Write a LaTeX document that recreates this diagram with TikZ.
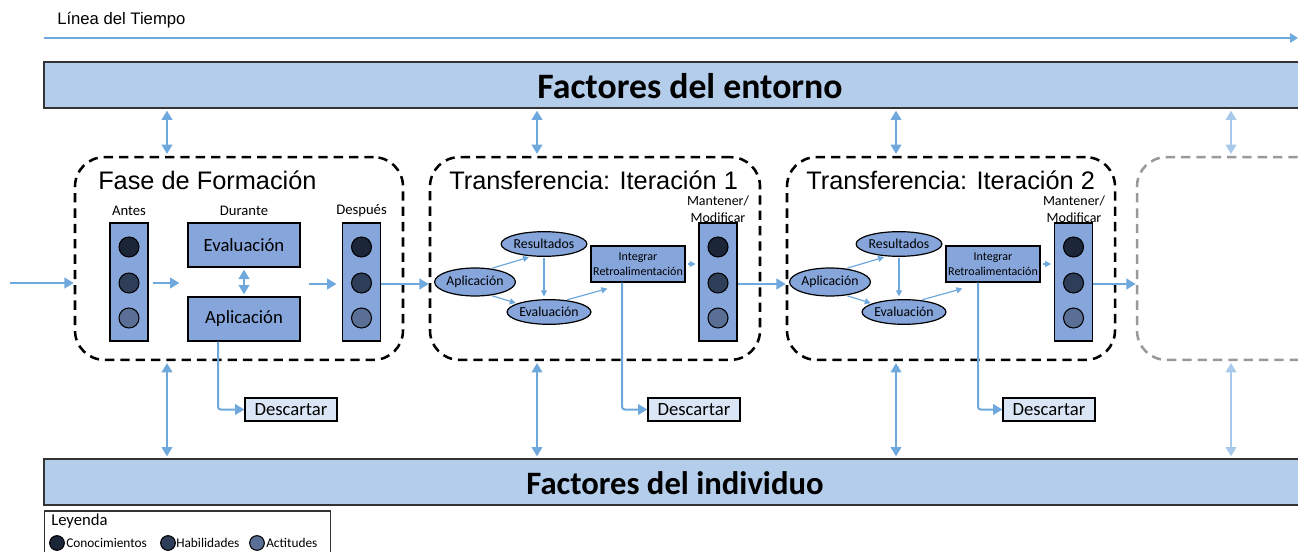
\documentclass[tikz,border=0pt]{standalone}
\usepackage{fontspec}
\setmainfont{Carlito}
\newfontfamily\arialf{Liberation Sans}
\usetikzlibrary{arrows.meta,calc,shapes.geometric}
\definecolor{barfill}{HTML}{B4CDEA}
\definecolor{boxfill}{HTML}{85A5DB}
\definecolor{ablue}{HTML}{6FA8DC}
\definecolor{ablue2}{HTML}{A9C9EC}
\definecolor{dk1}{HTML}{1B2638}
\definecolor{dk2}{HTML}{2E3D58}
\definecolor{dk3}{HTML}{5B6F96}
\definecolor{descfill}{HTML}{DAE6F5}
\definecolor{edge}{HTML}{333333}
\definecolor{greydash}{HTML}{999999}
\begin{document}
\begin{tikzpicture}[x=0.75pt,y=-0.75pt,
  bar/.style={draw=edge, line width=1pt, fill=barfill, minimum height=34.5pt, inner sep=0},
  bartext/.style={font=\bfseries\fontsize{26.8}{30}\selectfont, inner sep=0},
  phase/.style={draw=black, line width=1.9pt, dash pattern=on 7pt off 4.5pt, rounded corners=22pt, minimum width=246pt, minimum height=152pt, inner sep=0},
  phasegrey/.style={phase, draw=greydash},
  ptitle/.style={font=\arialf\fontsize{19}{22}\selectfont, anchor=west, inner sep=0},
  col/.style={draw=black, line width=1pt, fill=boxfill, minimum width=28.5pt, minimum height=88.5pt, inner sep=0},
  k1/.style={circle, draw=black, line width=0.8pt, minimum size=15pt, inner sep=0, fill=dk1},
  k2/.style={k1, fill=dk2},
  k3/.style={k1, fill=dk3},
  lk1/.style={k1, minimum size=11pt},
  lk2/.style={lk1, fill=dk2},
  lk3/.style={lk1, fill=dk3},
  bigbox/.style={draw=black, line width=1pt, fill=boxfill, minimum width=84pt, minimum height=33pt, inner sep=0, font=\fontsize{14}{16}\selectfont},
  ell/.style={ellipse, draw=black, line width=0.9pt, fill=boxfill, inner sep=0, font=\fontsize{10.3}{12}\selectfont},
  intbox/.style={draw=black, line width=0.9pt, fill=boxfill, minimum width=70.5pt, minimum height=27pt, inner sep=0, align=center, font=\fontsize{9}{11.5}\selectfont},
  descbox/.style={draw=black, line width=1pt, fill=descfill, minimum width=69pt, minimum height=17.25pt, inner sep=0, font=\fontsize{14}{16}\selectfont},
  small/.style={font=\fontsize{11}{13}\selectfont, inner sep=0},
  mmtext/.style={font=\fontsize{10.5}{13}\selectfont, align=center, inner sep=0},
  arr/.style={draw=ablue, line width=1.5pt, -{Triangle[length=7pt,width=8pt]}},
  thin/.style={draw=ablue, line width=0.9pt, -{Triangle[length=4.5pt,width=4.5pt]}},
  dbl/.style={draw=ablue, line width=1.5pt, {Triangle[length=7pt,width=8pt]}-{Triangle[length=7pt,width=8pt]}, shorten <=1.5pt, shorten >=1.5pt},
  dblpale/.style={dbl, draw=ablue2},
  disc/.style={draw=ablue, line width=1.5pt, -{Triangle[length=7pt,width=8pt]}, rounded corners=2pt}
]
\clip (0,0) rectangle (1298,552);
\useasboundingbox (0,0) rectangle (1298,552);

% time line
\node[font=\arialf\fontsize{12.5}{15}\selectfont, anchor=west, inner sep=0] (tltext) at (57,20) {Línea del Tiempo};
\coordinate (tl0) at (44,38);
\coordinate (tl1) at (1298,38);
\draw[draw=ablue, line width=1.4pt, -{Triangle[length=6pt,width=7pt]}] (tl0) -- (tl1);

% bars
\node[bar, minimum width=975pt] (top) at (694,85) {};
\node[bartext] (toptext) at (690,86) {Factores del entorno};
\node[bar, minimum width=975pt] (bot) at (694,482) {};
\node[bartext, font=\bfseries\fontsize{24.5}{28}\selectfont] (bottext) at (675,483) {Factores del individuo};

% phase boxes
\node[phase] (f1) at (239,258.5) {};
\node[phase, minimum width=247.5pt] (f2) at (595,258.5) {};
\node[phase] (f3) at (951,258.5) {};
\node[phasegrey] (f4) at (1301,258.5) {};

\node[ptitle] (t1) at (98,180) {Fase de Formación};
\node[ptitle] (t2) at (449,180) {Transferencia: Iteración 1};
\node[ptitle] (t3) at (806,180) {Transferencia: Iteración 2};

% phase 1 content
\node[small] (antes) at (129,211) {Antes};
\node[small] (durante) at (244,211) {Durante};
\node[small] (despues) at (361.5,211) {Después};
\node[col] (c1) at (129,282) {};
\node[k1] (c1a) at (129,247) {};
\node[k2] (c1b) at (129,283) {};
\node[k3] (c1c) at (129,318) {};
\node[col] (c2) at (361.5,282) {};
\node[k1] (c2a) at (361.5,247) {};
\node[k2] (c2b) at (361.5,283) {};
\node[k3] (c2c) at (361.5,318) {};
\node[bigbox] (ev) at (244,245) {Evaluación};
\node[bigbox] (ap) at (244,319) {Aplicación};
\node[descbox] (d1) at (291,409.5) {Descartar};

\coordinate (in0) at (10,283);
\draw[arr] (in0) -- (in0 -| f1.west);
\draw[arr, shorten <=3pt, shorten >=6pt] (c1.east |- c1b) -- (c1b -| ap.west);
\draw[dbl] (ev.south) -- (ap.south |- ap.north);
\draw[arr, shorten <=6pt, shorten >=4pt] (ap.east |- 0,284) -- (c2.west |- 0,284);
\draw[arr] (c2.east |- 0,284) -- (f2.west |- 0,284);
\draw[disc] ($(ap.south)+(-26,0)$) |- (d1.west);

% phase 2 content
\node[ell, minimum width=57pt, minimum height=21pt] (a2) at (475,282) {Aplicación};
\node[ell, minimum width=56pt, minimum height=18.5pt] (r2) at (544,244) {Resultados};
\node[ell, minimum width=57pt, minimum height=18.5pt] (e2) at (549,312) {Evaluación};
\node[intbox] (i2) at (638,264) {Integrar\\Retroalimentación};
\node[mmtext] (mm2) at (718,209) {Mantener/\\Modificar};
\node[col] (m2) at (718,282) {};
\node[k1] (m2a) at (718,247) {};
\node[k2] (m2b) at (718,283) {};
\node[k3] (m2c) at (718,318) {};
\node[descbox] (d2) at (694,409.5) {Descartar};

\draw[thin, shorten <=1pt, shorten >=2pt] (a2.40) -- (r2.225);
\draw[thin, shorten <=1pt, shorten >=1pt] (a2.-40) -- (e2.165);
\draw[thin, shorten <=1pt, shorten >=2pt] (r2.south) -- (r2.south |- e2.north);
\draw[thin, shorten <=1pt] (e2.35) -- ($(i2.south west)+(17,6)$);
\draw[thin, shorten <=2pt, shorten >=2pt] (i2.east) -- (i2.east -| m2.west);
\draw[arr] (m2.east |- 0,284) -- (f3.west |- 0,284);
\draw[disc] ($(i2.south)+(-16,0)$) |- (d2.west);

% phase 3 content
\node[ell, minimum width=57pt, minimum height=21pt] (a3) at (830,282) {Aplicación};
\node[ell, minimum width=56pt, minimum height=18.5pt] (r3) at (899,244) {Resultados};
\node[ell, minimum width=57pt, minimum height=18.5pt] (e3) at (904,312) {Evaluación};
\node[intbox] (i3) at (993,264) {Integrar\\Retroalimentación};
\node[mmtext] (mm3) at (1074,209) {Mantener/\\Modificar};
\node[col] (m3) at (1073.5,282) {};
\node[k1] (m3a) at (1073.5,247) {};
\node[k2] (m3b) at (1073.5,283) {};
\node[k3] (m3c) at (1073.5,318) {};
\node[descbox] (d3) at (1049,409.5) {Descartar};

\draw[thin, shorten <=1pt, shorten >=2pt] (a3.40) -- (r3.225);
\draw[thin, shorten <=1pt, shorten >=1pt] (a3.-40) -- (e3.165);
\draw[thin, shorten <=1pt, shorten >=2pt] (r3.south) -- (r3.south |- e3.north);
\draw[thin, shorten <=1pt] (e3.35) -- ($(i3.south west)+(17,6)$);
\draw[thin, shorten <=2pt, shorten >=2pt] (i3.east) -- (i3.east -| m3.west);
\draw[arr] (m3.east |- 0,284) -- (f4.west |- 0,284);
\draw[disc] ($(i3.south)+(-15,0)$) |- (d3.west);

% vertical double arrows
\coordinate (u1) at (167,0);
\coordinate (u2) at (537,0);
\coordinate (u3) at (896,0);
\coordinate (u4) at (1231,0);
\draw[dbl] (top.south -| u1) -- (f1.north -| u1);
\draw[dbl] (top.south -| u2) -- (f2.north -| u2);
\draw[dbl] (top.south -| u3) -- (f3.north -| u3);
\draw[dblpale] (top.south -| u4) -- (f4.north -| u4);
\draw[dbl] (f1.south -| u1) -- (bot.north -| u1);
\draw[dbl] (f2.south -| u2) -- (bot.north -| u2);
\draw[dbl] (f3.south -| u3) -- (bot.north -| u3);
\draw[dblpale] (f4.south -| u4) -- (bot.north -| u4);

% legend
\node[draw=edge, line width=0.8pt, minimum width=215pt, minimum height=37.5pt, inner sep=0] (leg) at (187.5,536) {};
\node[font=\fontsize{12.5}{15}\selectfont, anchor=west, inner sep=0] (legt) at (51,521) {Leyenda};
\node[lk1] (lc1) at (57,543) {};
\node[font=\fontsize{10}{12}\selectfont, anchor=west, inner sep=0] (ll1) at (66,543) {Conocimientos};
\node[lk2] (lc2) at (168,543) {};
\node[font=\fontsize{10}{12}\selectfont, anchor=west, inner sep=0] (ll2) at (176,543) {Habilidades};
\node[lk3] (lc3) at (257,543) {};
\node[font=\fontsize{10}{12}\selectfont, anchor=west, inner sep=0] (ll3) at (266,543) {Actitudes};
\end{tikzpicture}
\end{document}
